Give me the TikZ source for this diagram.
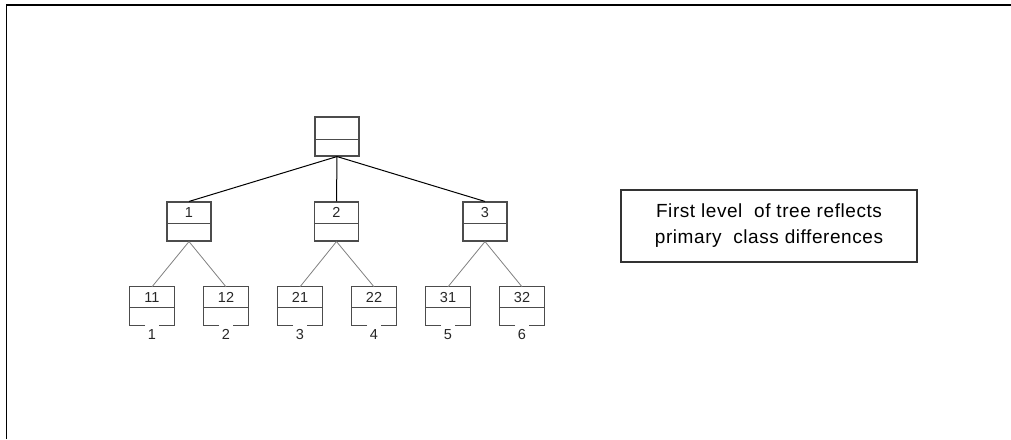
\documentclass[tikz,border=0pt]{standalone}
\usepackage{fontspec}
\setmainfont{Liberation Sans}
\begin{document}
\begin{tikzpicture}[x=1pt,y=-1pt,
  boxline/.style={draw=black!70, line width=1.1pt},
  box/.style={boxline, minimum width=44pt, minimum height=39pt, inner sep=0pt},
  leaf/.style={minimum width=44pt, minimum height=38pt, inner sep=0pt},
  num/.style={font=\fontsize{14.5}{16}\selectfont, text=black!85, inner sep=0pt},
  trunk/.style={draw=black, line width=1pt},
  twig/.style={draw=black!50, line width=0.8pt},
  notebox/.style={draw=black!80, line width=1.1pt, minimum width=296pt,
    minimum height=72pt, inner sep=0pt, align=center,
    font=\addfontfeature{LetterSpace=3}\fontsize{19}{26}\selectfont}]
\useasboundingbox (0,0) rectangle (1011,439);

% page frame: top and left rules only
\draw[line width=1.4pt] (6.5,439) -- (6.5,5) -- (1011,5);

% root and first level
\node[box] (root) at (337,136.5) {};
\node[box] (a1) at (189,221.5) {};
\node[box] (a2) at (336.5,221.5) {};
\node[box] (a3) at (485,221.5) {};
\draw[boxline] ([yshift=-23pt]root.north west) -- ([yshift=-23pt]root.north east);
\foreach \n in {a1,a2,a3}
  \draw[boxline] ([yshift=-22pt]\n.north west) -- ([yshift=-22pt]\n.north east);

% leaves, open at the bottom
\foreach \n/\x in {b11/152,b12/226,b21/300,b22/374,b31/448,b32/522}
  \node[leaf] (\n) at (\x,306) {};
\foreach \n in {b11,b12,b21,b22,b31,b32}{
  \draw[boxline] ([xshift=-7pt]\n.south) -| (\n.north west) -| (\n.south east)
    -- ([xshift=7pt]\n.south);
  \draw[boxline] ([yshift=-21pt]\n.north west) -- ([yshift=-21pt]\n.north east);
}

% numbers
\foreach \n/\t in {a1/1,a2/2,a3/3}
  \node[num] (t\n) at ([yshift=-11pt]\n.north) {\t};
\foreach \n/\t in {b11/11,b12/12,b21/21,b22/22,b31/31,b32/32}
  \node[num] (t\n) at ([yshift=-11pt]\n.north) {\t};
\foreach \n/\t in {b11/1,b12/2,b21/3,b22/4,b31/5,b32/6}
  \node[num] (s\n) at ([yshift=-9pt]\n.south) {\t};

% connectors
\foreach \n in {a1,a2,a3}
  \draw[trunk] (root.south) -- (\n.north);
\draw[twig] (a1.south) -- (b11.north);
\draw[twig] (a1.south) -- (b12.north);
\draw[twig] (a2.south) -- (b21.north);
\draw[twig] (a2.south) -- (b22.north);
\draw[twig] (a3.south) -- (b31.north);
\draw[twig] (a3.south) -- (b32.north);

% annotation
\node[notebox] (note) at (769,226)
  {First level\ \ of tree reflects\\primary\ \ class differences};
\end{tikzpicture}
\end{document}
